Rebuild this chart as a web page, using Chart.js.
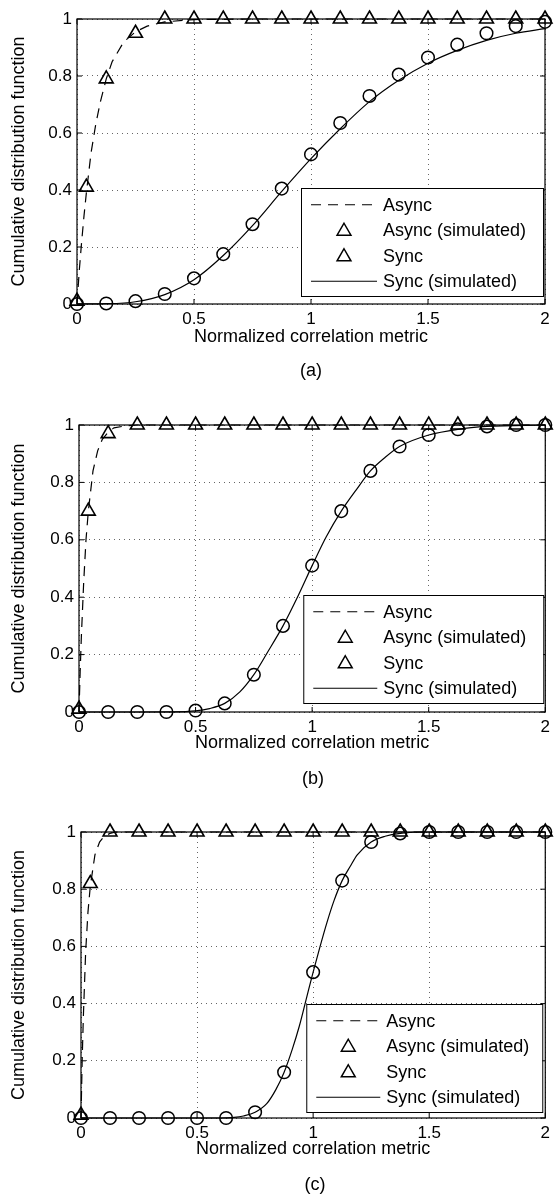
<!DOCTYPE html>
<html>
<head>
<meta charset="utf-8">
<script src="https://cdn.jsdelivr.net/npm/chart.js@4.4.0/dist/chart.umd.js"></script>
<style>
  html, body { margin: 0; padding: 0; background: #fff; }
  #page { position: relative; width: 555px; height: 1202px; overflow: hidden; }
  #page canvas { position: absolute; left: 0; }
  .tag { position: absolute; font-family: 'Liberation Sans', Arial, sans-serif; font-size: 18px; color: #000;
         transform: translate(-50%, -50%); white-space: nowrap; }
</style>
</head>
<body>
<div id="page">
  <canvas id="cdfA"></canvas>
  <canvas id="cdfB"></canvas>
  <canvas id="cdfC"></canvas>
  <div class="tag" id="tagA">(a)</div>
  <div class="tag" id="tagB">(b)</div>
  <div class="tag" id="tagC">(c)</div>
</div>
<script>
// axis ticks
const xTicks = [0, 0.5, 1, 1.5, 2];
const yTicks = [0, 0.2, 0.4, 0.6, 0.8, 1];

// sample positions of the simulated points
const asyncSimX = [0, 0.04, 0.125, 0.25, 0.375, 0.5, 0.625, 0.75, 0.875, 1, 1.125, 1.25, 1.375, 1.5, 1.625, 1.75, 1.875, 2];
const syncSimX = [0, 0.125, 0.25, 0.375, 0.5, 0.625, 0.75, 0.875, 1, 1.125, 1.25, 1.375, 1.5, 1.625, 1.75, 1.875, 2];

// (a)
const asyncLineX_a = [0, 0.005, 0.01, 0.02, 0.03, 0.04, 0.06, 0.08, 0.1, 0.125, 0.15, 0.2, 0.25, 0.3, 0.375, 0.5, 0.75, 2];
const asyncLineY_a = [0, 0.06, 0.12, 0.22, 0.31, 0.39, 0.53, 0.63, 0.71, 0.79, 0.85, 0.92, 0.955, 0.975, 0.99, 0.998, 1, 1];
const asyncSim_a = [0.01, 0.41, 0.79, 0.95, 1, 1, 1, 1, 1, 1, 1, 1, 1, 1, 1, 1, 1, 1];
const syncSim_a = [0, 0.002, 0.01, 0.035, 0.09, 0.175, 0.28, 0.405, 0.525, 0.635, 0.73, 0.805, 0.865, 0.91, 0.95, 0.975, 0.99];
const syncLineX_a = [0, 0.125, 0.25, 0.375, 0.5, 0.625, 0.75, 0.875, 1, 1.125, 1.25, 1.375, 1.5, 1.625, 1.75, 1.875, 2];
const syncLineY_a = [0, 0.001, 0.008, 0.033, 0.085, 0.17, 0.275, 0.395, 0.51, 0.615, 0.71, 0.785, 0.845, 0.89, 0.925, 0.95, 0.966];

// (b)
const asyncLineX_b = [0, 0.005, 0.01, 0.02, 0.03, 0.04, 0.06, 0.08, 0.1, 0.125, 0.15, 0.2, 0.25, 2];
const asyncLineY_b = [0, 0.14, 0.26, 0.45, 0.6, 0.7, 0.84, 0.91, 0.95, 0.975, 0.99, 0.997, 1, 1];
const asyncSim_b = [0.01, 0.70, 0.97, 1, 1, 1, 1, 1, 1, 1, 1, 1, 1, 1, 1, 1, 1, 1];
const syncSim_b = [0, 0, 0, 0, 0.005, 0.03, 0.13, 0.30, 0.51, 0.70, 0.84, 0.925, 0.965, 0.985, 0.995, 1, 1];
const syncLineX_b = [0, 0.25, 0.4, 0.5, 0.56, 0.625, 0.69, 0.75, 0.81, 0.875, 0.94, 1, 1.06, 1.125, 1.19, 1.25, 1.31, 1.375, 1.5, 1.625, 1.75, 2];
const syncLineY_b = [0, 0, 0.0005, 0.004, 0.012, 0.03, 0.07, 0.13, 0.21, 0.30, 0.405, 0.51, 0.61, 0.70, 0.775, 0.84, 0.885, 0.925, 0.965, 0.985, 0.995, 1];

// (c)
const asyncLineX_c = [0, 0.005, 0.01, 0.02, 0.03, 0.04, 0.06, 0.08, 0.1, 0.125, 0.15, 2];
const asyncLineY_c = [0, 0.2, 0.35, 0.58, 0.72, 0.81, 0.92, 0.965, 0.985, 0.995, 1, 1];
const asyncSim_c = [0.01, 0.82, 1, 1, 1, 1, 1, 1, 1, 1, 1, 1, 1, 1, 1, 1, 1, 1];
const syncSim_c = [0, 0, 0, 0, 0, 0, 0.02, 0.16, 0.51, 0.83, 0.965, 0.995, 1, 1, 1, 1, 1];
const syncLineX_c = [0, 0.6, 0.66, 0.7, 0.75, 0.8, 0.84, 0.875, 0.91, 0.94, 0.97, 1, 1.03, 1.06, 1.09, 1.125, 1.16, 1.19, 1.25, 1.31, 1.375, 1.5, 2];
const syncLineY_c = [0, 0, 0.002, 0.007, 0.02, 0.05, 0.1, 0.16, 0.24, 0.32, 0.415, 0.51, 0.6, 0.685, 0.76, 0.83, 0.88, 0.92, 0.965, 0.985, 0.995, 1, 1];

const FONT = "'Liberation Sans', Arial, sans-serif";

function pts(xs, ys) {
    return xs.map((x, i) => ({ x: x, y: ys[i] }));
}

function drawTriangle(ctx, x, y, r) {
    ctx.beginPath();
    ctx.moveTo(x, y - r);
    ctx.lineTo(x + r * 0.866, y + r * 0.5);
    ctx.lineTo(x - r * 0.866, y + r * 0.5);
    ctx.closePath();
    ctx.stroke();
}

// black box round the plot with inward ticks on all four sides
const frameTicks = {
    id: 'frameTicks',
    afterDatasetsDraw(chart) {
        const { ctx, chartArea: a, scales } = chart;
        ctx.save();
        ctx.strokeStyle = '#000';
        ctx.lineWidth = 1.2;
        ctx.strokeRect(a.left, a.top, a.right - a.left, a.bottom - a.top);
        ctx.lineWidth = 1;
        ctx.beginPath();
        xTicks.forEach(v => {
            const px = scales.x.getPixelForValue(v);
            ctx.moveTo(px, a.bottom); ctx.lineTo(px, a.bottom - 5);
            ctx.moveTo(px, a.top); ctx.lineTo(px, a.top + 5);
        });
        yTicks.forEach(v => {
            const py = scales.y.getPixelForValue(v);
            ctx.moveTo(a.left, py); ctx.lineTo(a.left + 5, py);
            ctx.moveTo(a.right, py); ctx.lineTo(a.right - 5, py);
        });
        ctx.stroke();
        ctx.restore();
    }
};

// legend box drawn inside the plot area
const boxLegend = {
    id: 'boxLegend',
    afterDraw(chart, args, opts) {
        const ctx = chart.ctx;
        const a = chart.chartArea;
        const left = a.right - opts.offsetRight - opts.width;
        const top = a.bottom - opts.offsetBottom - opts.height;
        ctx.save();
        ctx.fillStyle = '#fff';
        ctx.fillRect(left, top, opts.width, opts.height);
        ctx.strokeStyle = '#000';
        ctx.lineWidth = 1;
        ctx.strokeRect(left + 0.5, top + 0.5, opts.width, opts.height);
        ctx.font = opts.fontSize + 'px ' + FONT;
        ctx.fillStyle = '#000';
        ctx.textBaseline = 'middle';
        const rowH = (opts.height - 6) / chart.data.datasets.length;
        chart.data.datasets.forEach((ds, i) => {
            const cy = top + 4 + rowH * (i + 0.5);
            const x1 = left + 10, x2 = left + opts.textLeft - 6;
            ctx.strokeStyle = '#000';
            if (ds.legendSample === 'dash') {
                ctx.lineWidth = 1.2;
                ctx.setLineDash([10, 7]);
                ctx.beginPath(); ctx.moveTo(x1, cy); ctx.lineTo(x2, cy); ctx.stroke();
                ctx.setLineDash([]);
            } else if (ds.legendSample === 'line') {
                ctx.lineWidth = 1.2;
                ctx.beginPath(); ctx.moveTo(x1, cy); ctx.lineTo(x2, cy); ctx.stroke();
            } else {
                ctx.lineWidth = 1.5;
                drawTriangle(ctx, (x1 + x2) / 2, cy + 1, 8);
            }
            ctx.fillText(ds.label, left + opts.textLeft, cy + 1);
        });
        ctx.restore();
    }
};

function makePanel(id, g, d) {
    const canvas = document.getElementById(id);
    canvas.width = 555;
    canvas.height = g.height;
    canvas.style.top = g.top + 'px';
    canvas.style.width = '555px';
    canvas.style.height = g.height + 'px';

    const axisFont = { family: FONT, size: 17 };
    const titleFont = { family: FONT, size: 18 };

    return new Chart(canvas, {
        type: 'line',
        data: {
            datasets: [
                {
                    label: 'Async',
                    legendSample: 'dash',
                    data: pts(d.asyncX, d.asyncY),
                    borderColor: '#000',
                    borderWidth: 1.2,
                    borderDash: [10, 7],
                    pointRadius: 0,
                    tension: 0
                },
                {
                    label: 'Async (simulated)',
                    legendSample: 'triangle',
                    data: pts(asyncSimX, d.asyncSim),
                    showLine: false,
                    pointStyle: 'triangle',
                    pointRadius: 8,
                    pointBorderWidth: 1.6,
                    pointBorderColor: '#000',
                    pointBackgroundColor: 'rgba(0,0,0,0)'
                },
                {
                    label: 'Sync',
                    legendSample: 'triangle',
                    data: pts(syncSimX, d.syncSim),
                    showLine: false,
                    pointStyle: 'circle',
                    pointRadius: 6.3,
                    pointBorderWidth: 1.5,
                    pointBorderColor: '#000',
                    pointBackgroundColor: 'rgba(0,0,0,0)'
                },
                {
                    label: 'Sync (simulated)',
                    legendSample: 'line',
                    data: pts(d.syncX, d.syncY),
                    borderColor: '#000',
                    borderWidth: 1.2,
                    pointRadius: 0,
                    cubicInterpolationMode: 'monotone'
                }
            ]
        },
        options: {
            responsive: false,
            animation: false,
            clip: false,
            layout: { padding: { left: 0, right: 555 - g.right, top: g.plotTop - g.top, bottom: 0 } },
            plugins: {
                legend: { display: false },
                tooltip: { enabled: false },
                boxLegend: g.legend
            },
            scales: {
                x: {
                    type: 'linear',
                    min: 0,
                    max: 2,
                    afterBuildTicks: s => { s.ticks = xTicks.map(v => ({ value: v })); },
                    afterFit: s => { s.height = g.height - (g.plotBottom - g.top); },
                    ticks: { font: axisFont, color: '#000', padding: 5, callback: v => String(v) },
                    grid: { color: '#666', lineWidth: 1, drawTicks: false },
                    border: { display: false, dash: [1, 4] },
                    title: { display: true, text: 'Normalized correlation metric', font: titleFont, color: '#000',
                             padding: { top: 0, bottom: 27 } }
                },
                y: {
                    type: 'linear',
                    min: 0,
                    max: 1,
                    afterBuildTicks: s => { s.ticks = yTicks.map(v => ({ value: v })); },
                    afterFit: s => { s.width = g.left; },
                    ticks: { font: axisFont, color: '#000', padding: 5, callback: v => String(v) },
                    grid: { color: '#666', lineWidth: 1, drawTicks: false },
                    border: { display: false, dash: [1, 4] },
                    title: { display: true, text: 'Cumulative distribution function', font: titleFont, color: '#000',
                             padding: { top: 8, bottom: 0 } }
                }
            }
        },
        plugins: [frameTicks, boxLegend]
    });
}

const panels = [
    {
        id: 'cdfA', tag: 'tagA',
        g: { top: 0, height: 375, plotTop: 19, plotBottom: 304, left: 77, right: 545,
             legend: { width: 242, height: 108, offsetRight: 2, offsetBottom: 8, textLeft: 82, fontSize: 18 } },
        d: { asyncX: asyncLineX_a, asyncY: asyncLineY_a, asyncSim: asyncSim_a, syncSim: syncSim_a, syncX: syncLineX_a, syncY: syncLineY_a }
    },
    {
        id: 'cdfB', tag: 'tagB',
        g: { top: 406, height: 375, plotTop: 425, plotBottom: 712, left: 79, right: 547,
             legend: { width: 240, height: 108, offsetRight: 2, offsetBottom: 9, textLeft: 80, fontSize: 18 } },
        d: { asyncX: asyncLineX_b, asyncY: asyncLineY_b, asyncSim: asyncSim_b, syncSim: syncSim_b, syncX: syncLineX_b, syncY: syncLineY_b }
    },
    {
        id: 'cdfC', tag: 'tagC',
        g: { top: 812, height: 375, plotTop: 832, plotBottom: 1118, left: 81, right: 549,
             legend: { width: 236, height: 108, offsetRight: 3, offsetBottom: 6, textLeft: 80, fontSize: 18 } },
        d: { asyncX: asyncLineX_c, asyncY: asyncLineY_c, asyncSim: asyncSim_c, syncSim: syncSim_c, syncX: syncLineX_c, syncY: syncLineY_c }
    }
];

panels.forEach(p => {
    makePanel(p.id, p.g, p.d);
    const tag = document.getElementById(p.tag);
    tag.style.left = ((p.g.left + p.g.right) / 2) + 'px';
    tag.style.top = (p.g.plotBottom + 66) + 'px';
});
</script>
</body>
</html>
